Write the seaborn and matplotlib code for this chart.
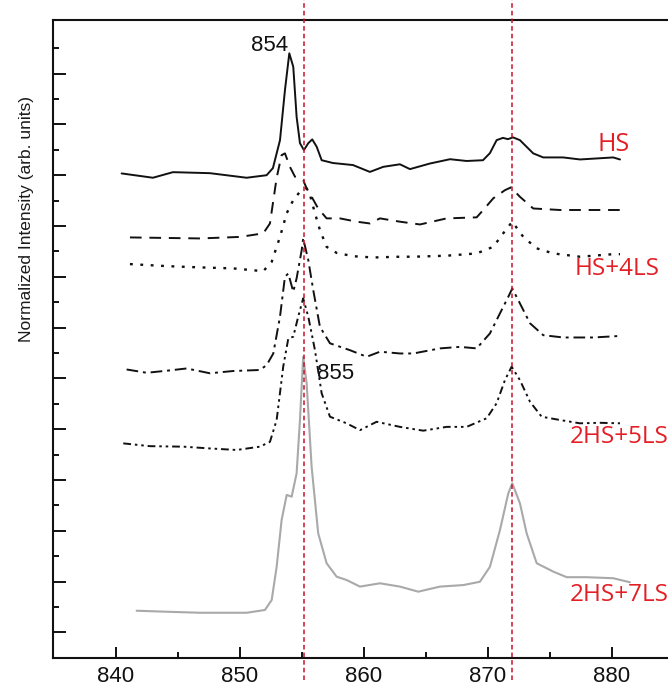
import matplotlib
matplotlib.use("Agg")
import matplotlib.pyplot as plt
import seaborn as sns
import pandas as pd
from matplotlib.ticker import FixedLocator

# ---------------- data ----------------
hs_x = [840.46, 842.98, 844.6, 847.58, 850.54, 852.15, 852.66, 853.23, 853.63, 853.98,
        854.3, 854.57, 854.84, 855.16, 855.51, 855.83, 856.19, 856.59, 857.5, 859.11,
        860.48, 861.56, 862.9, 863.71, 865.32, 866.94, 868.28, 869.6, 870.16, 870.7,
        871.21, 871.61, 872.02, 872.58, 873.65, 874.46, 876.07, 877.42, 878.77, 880.1, 880.65]
hs_y = [19.07, 18.90, 19.12, 19.08, 18.90, 19.00, 19.28, 20.38, 22.35, 23.80,
        23.27, 21.30, 20.26, 19.99, 20.26, 20.41, 20.12, 19.59, 19.48, 19.40,
        19.13, 19.33, 19.43, 19.24, 19.46, 19.63, 19.56, 19.59, 19.87, 20.38,
        20.47, 20.42, 20.49, 20.38, 19.86, 19.70, 19.70, 19.62, 19.66, 19.70, 19.62]

dash_x = [841.13, 846.77, 850.0, 851.88, 852.42, 852.96, 853.36, 853.63, 854.03, 854.44,
          855.1, 855.38, 855.78, 856.31, 856.99, 858.06, 859.41, 860.48, 861.29, 862.9,
          864.52, 866.67, 869.09, 869.62, 870.43, 871.37, 871.85, 872.58, 873.65, 875.81,
          877.96, 880.65]
dash_y = [16.55, 16.51, 16.57, 16.71, 17.10, 18.90, 19.79, 19.86, 19.33, 18.94,
          18.81, 18.48, 18.15, 17.69, 17.30, 17.30, 17.17, 17.10, 17.30, 17.17,
          17.06, 17.30, 17.34, 17.63, 18.09, 18.41, 18.52, 18.15, 17.69, 17.63,
          17.63, 17.63]

dot_x = [841.13, 844.09, 846.77, 849.46, 851.88, 852.56, 853.23, 853.77, 854.3, 854.84,
         855.38, 855.65, 856.05, 856.45, 856.99, 857.8, 859.14, 860.75, 862.9, 863.98,
         866.67, 869.09, 870.43, 871.23, 871.96, 872.85, 873.93, 875.27, 877.42, 880.1, 880.65]
dot_y = [15.50, 15.42, 15.37, 15.33, 15.22, 15.59, 16.57, 17.50, 18.02, 18.35,
         18.48, 18.22, 17.50, 16.84, 16.18, 15.94, 15.81, 15.76, 15.79, 15.79,
         15.83, 15.92, 16.18, 16.71, 17.17, 16.57, 16.12, 15.92, 15.79, 15.89, 15.89]

dd_x = [840.86, 842.48, 844.09, 845.7, 847.58, 849.46, 851.61, 852.15, 852.69, 853.23,
        853.63, 853.9, 854.3, 854.57, 854.98, 855.1, 855.51, 855.91, 856.45, 857.26,
        858.87, 860.22, 861.29, 862.9, 863.98, 866.13, 867.74, 869.09, 870.16, 870.97,
        871.64, 871.96, 872.58, 873.39, 874.46, 876.07, 878.49, 880.65]
dd_y = [11.35, 11.22, 11.30, 11.39, 11.20, 11.29, 11.33, 11.52, 11.98, 13.43,
        15.00, 15.13, 14.41, 14.94, 16.05, 16.51, 15.66, 14.48, 13.03, 12.38,
        12.11, 11.85, 12.05, 11.98, 11.98, 12.18, 12.24, 12.18, 12.77, 13.56,
        14.21, 14.54, 13.95, 13.17, 12.70, 12.61, 12.61, 12.67]

ddd_x = [840.59, 842.74, 845.43, 847.58, 849.73, 851.61, 852.42, 852.96, 853.49, 853.9,
         854.3, 854.7, 855.1, 855.51, 856.05, 856.59, 857.26, 858.6, 859.68, 861.02,
         862.9, 864.78, 866.67, 868.28, 869.9, 870.7, 871.37, 871.91, 872.58, 873.39,
         874.33, 875.81, 877.42, 879.03, 880.65]
ddd_y = [8.44, 8.33, 8.31, 8.24, 8.18, 8.31, 8.50, 9.36, 11.46, 12.57,
         12.64, 13.43, 14.15, 13.43, 12.11, 10.41, 9.49, 9.23, 8.96, 9.29,
         9.09, 8.94, 9.09, 9.09, 9.43, 10.02, 10.93, 11.46, 10.93, 10.08,
         9.49, 9.36, 9.23, 9.25, 9.23]

gray_x = [841.67, 844.09, 846.77, 850.54, 852.02, 852.56, 852.96, 853.36, 853.77, 854.17,
          854.57, 854.84, 855.1, 855.38, 855.78, 856.31, 856.99, 857.8, 858.6, 859.68,
          861.29, 862.9, 864.38, 866.13, 868.01, 869.35, 870.16, 870.97, 871.64, 871.96,
          872.58, 873.12, 873.93, 875.27, 876.35, 877.96, 880.1, 881.45]
gray_y = [1.85, 1.81, 1.77, 1.77, 1.88, 2.27, 3.58, 5.42, 6.41, 6.34,
          7.26, 9.36, 11.85, 10.80, 7.52, 4.90, 3.72, 3.19, 3.06, 2.80,
          2.93, 2.80, 2.60, 2.80, 2.86, 2.99, 3.58, 5.03, 6.47, 6.87,
          6.08, 4.90, 3.72, 3.39, 3.17, 3.17, 3.13, 2.97]

ref_lines = [855.15, 871.95]
x_major = [840, 850, 860, 870, 880]
x_minor = [845, 855, 865, 875]
y_major = list(range(1, 25, 2))
y_minor = list(range(2, 25, 2))

series_labels = ["HS", "HS+4LS", "2HS+5LS", "2HS+7LS"]
label_pos = [(878.87, 20.22), (877.02, 15.32), (876.61, 8.71), (876.61, 2.47)]
peak_labels = [("854", 852.42, 24.12), ("855", 857.7, 11.19)]

# ---------------- figure ----------------
sns.set_theme(style="ticks")
plt.rcParams['font.family'] = ['Liberation Sans', 'DejaVu Sans']

fig = plt.figure(figsize=(6.68, 6.90), dpi=100)
ax = fig.add_axes([52.7 / 668, 32.3 / 690, 615.3 / 668, 637.4 / 690])

curves = [
    (hs_x, hs_y, dict(color="#111111", lw=1.4, linestyle="-")),
    (dash_x, dash_y, dict(color="#111111", lw=1.4, linestyle=(0, (6, 4)))),
    (dot_x, dot_y, dict(color="#111111", lw=1.7, linestyle=(0, (1.2, 3.2)))),
    (dd_x, dd_y, dict(color="#111111", lw=1.4, linestyle=(0, (6, 2.5, 1.5, 2.5)))),
    (ddd_x, ddd_y, dict(color="#111111", lw=1.4, linestyle=(0, (4, 2, 1.3, 2, 1.3, 2)))),
    (gray_x, gray_y, dict(color="#a9a9a9", lw=1.5, linestyle="-")),
]
for xs, ys, kw in curves:
    df = pd.DataFrame({"x": xs, "y": ys})
    sns.lineplot(data=df, x="x", y="y", ax=ax, sort=False, estimator=None, **kw)

for xv in ref_lines:
    ax.axvline(xv, ymin=-0.035, ymax=1.04, color="#c8102e", lw=1.1,
               linestyle=(0, (3, 2)), clip_on=False, zorder=5)

ax.set_xlim(834.9, 884.52)
ax.set_ylim(0, 25.1)

ax.xaxis.set_major_locator(FixedLocator(x_major))
ax.xaxis.set_minor_locator(FixedLocator(x_minor))
ax.yaxis.set_major_locator(FixedLocator(y_major))
ax.yaxis.set_minor_locator(FixedLocator(y_minor))
ax.set_yticklabels([])
ax.set_xticklabels([str(v) for v in x_major])

ax.tick_params(axis="both", which="both", direction="in", color="#111111", width=1.4)
ax.tick_params(axis="x", which="major", length=8, labelsize=16, pad=6, labelcolor="#111111")
ax.tick_params(axis="x", which="minor", length=4.5)
ax.tick_params(axis="y", which="major", length=9)
ax.tick_params(axis="y", which="minor", length=4.5)
ax.tick_params(axis="x", which="both", top=False)
ax.tick_params(axis="y", which="both", right=False)

for side in ["left", "bottom", "top"]:
    ax.spines[side].set_linewidth(1.5)
    ax.spines[side].set_color("#111111")
ax.spines["right"].set_visible(False)

ax.set_xlabel("")
ax.set_ylabel("Normalized Intensity (arb. units)", fontsize=12.5, color="#1a1a1a")
ax.yaxis.set_label_coords(-0.031, 0.689)

for txt, xv, yv in peak_labels:
    ax.text(xv, yv, txt, fontsize=16, ha="center", va="center", color="#111111")

for i, (txt, (xv, yv)) in enumerate(zip(series_labels, label_pos)):
    ax.text(xv, yv, txt, fontsize=18 if i == 0 else 17.5, ha="left", va="center",
            color="#e31e24", family=["Open Sans", "DejaVu Sans"], clip_on=False)

fig.savefig("out.png", dpi=100)
